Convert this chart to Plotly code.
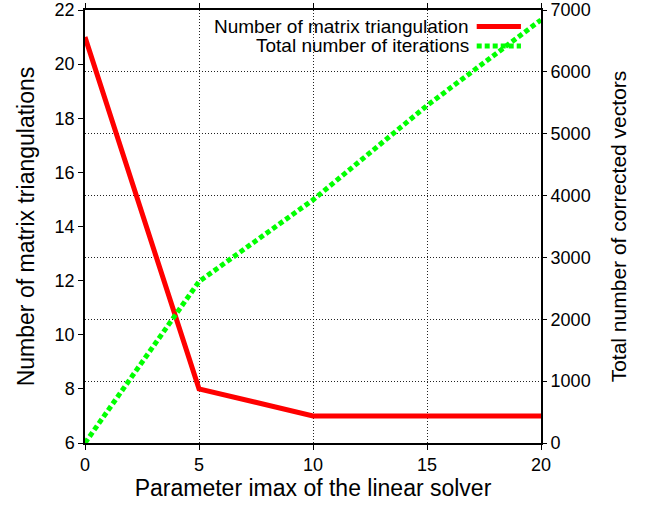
import plotly.graph_objects as go

imax = [0, 5, 10, 15, 20]
triangulations = [21, 8, 7, 7, 7]
corrected_vectors = [0, 2610, 3930, 5455, 6840]

series_names = ["Number of matrix triangulation", "Total number of iterations"]
left_ticks = [6, 8, 10, 12, 14, 16, 18, 20, 22]
right_ticks = [0, 1000, 2000, 3000, 4000, 5000, 6000, 7000]
x_ticks = [0, 5, 10, 15, 20]

RED = "#ff0000"
GREEN = "#00ff00"
FONT = "Liberation Sans, Arial, Helvetica, sans-serif"
GREEN_DASH = "5px,3px"

fig = go.Figure()
fig.add_trace(go.Scatter(x=imax, y=triangulations, mode="lines", name=series_names[0],
                         line=dict(color=RED, width=5), yaxis="y", showlegend=False))
fig.add_trace(go.Scatter(x=imax, y=corrected_vectors, mode="lines", name=series_names[1],
                         line=dict(color=GREEN, width=5, dash=GREEN_DASH), yaxis="y2", showlegend=False))

# legend (gnuplot style: text right-aligned, sample to the right)
leg_rows = [0.962, 0.917]
styles = [dict(color=RED, width=5), dict(color=GREEN, width=5, dash=GREEN_DASH)]
for name, yy, st in zip(series_names, leg_rows, styles):
    fig.add_annotation(x=0.843, y=yy, xref="paper", yref="paper", text=name, showarrow=False,
                       xanchor="right", yanchor="middle", xshift=2,
                       font=dict(size=19, color="black", family=FONT))
    fig.add_shape(type="line", xref="paper", yref="paper", x0=0.859, x1=0.956, y0=yy, y1=yy, line=st)

GRID = dict(showgrid=True, gridcolor="#222222", griddash="1px,2px", gridwidth=1)

fig.update_layout(
    width=651, height=507,
    margin=dict(l=85, r=110, t=10, b=64),
    paper_bgcolor="white", plot_bgcolor="white",
    font=dict(family=FONT, size=18, color="black"),
    xaxis=dict(range=[0, 20], tickvals=x_ticks, **GRID, zeroline=False, showline=True,
               linecolor="black", linewidth=1.5, mirror="ticks", automargin=False,
               ticks="outside", ticklen=5, tickcolor="black",
               title=dict(text="Parameter imax of the linear solver", font=dict(size=23), standoff=5)),
    yaxis=dict(range=[6, 22], tickvals=left_ticks, showgrid=False, zeroline=False, showline=True,
               linecolor="black", linewidth=1.5, mirror=True, ticks="outside", ticklen=5,
               tickcolor="black", automargin=False,
               title=dict(text="Number of matrix triangulations", font=dict(size=23), standoff=14)),
    yaxis2=dict(range=[0, 7000], tickvals=right_ticks, overlaying="y", side="right", **GRID,
                zeroline=False, showline=False, ticks="outside", ticklen=5, tickcolor="black",
                automargin=False,
                title=dict(text="Total number of corrected vectors", font=dict(size=21), standoff=21)),
)

fig.write_html("out.html", config={"displayModeBar": False},
               post_script="document.body.style.margin='0';document.body.style.overflow='hidden';")
